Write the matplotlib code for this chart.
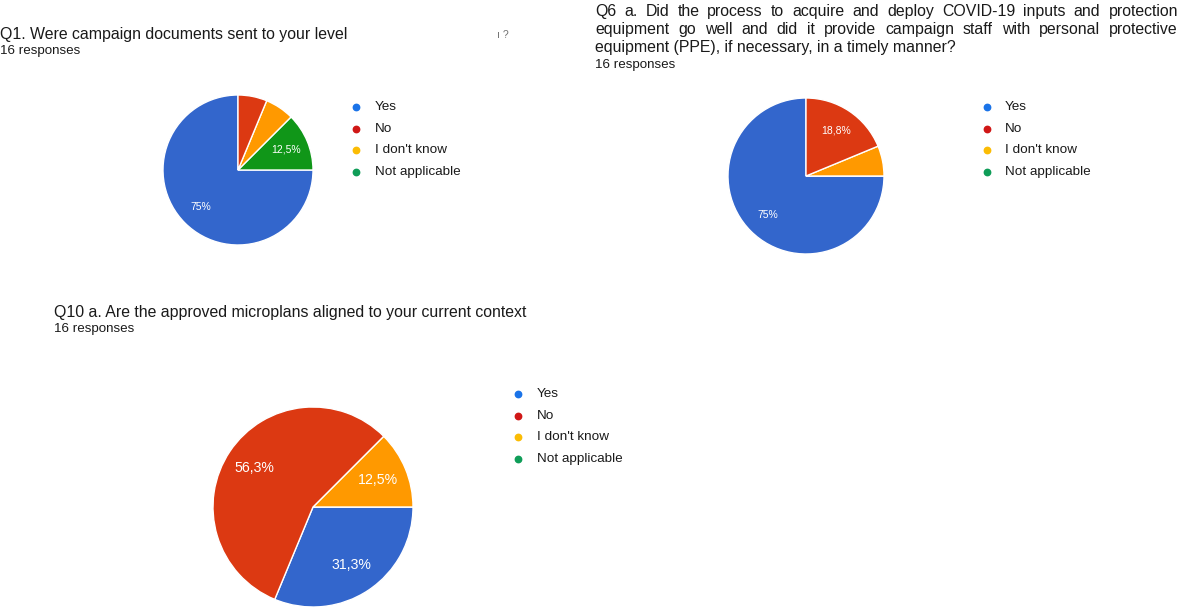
import math
import matplotlib
matplotlib.use("Agg")
import matplotlib.pyplot as plt

plt.rcParams['font.family'] = ['Liberation Sans', 'DejaVu Sans']

# ---------------- data ----------------
categories = ["Yes", "No", "I don't know", "Not applicable"]
q1_counts = [12, 1, 1, 2]
q6_counts = [12, 3, 1, 0]
q10_counts = [5, 9, 2, 0]

q1_title = "Q1. Were campaign documents sent to your level"
q6_title_lines = [
    "Q6 a. Did the process to acquire and deploy COVID-19 inputs and protection",
    "equipment go well and did it provide campaign staff with personal protective",
    "equipment (PPE), if necessary, in a timely manner?",
]
q10_title = "Q10 a. Are the approved microplans aligned to your current context"
responses_text = "16 responses"

slice_colors = ["#3366cc", "#dc3912", "#ff9900", "#109618"]
legend_colors = ["#1a73e8", "#d01716", "#fbbc04", "#0f9d58"]

TITLE_FS = 11.4
RESP_FS = 9.6
LEG_FS = 9.7

W, H = 1181, 608
fig = plt.figure(figsize=(W / 100, H / 100), dpi=100)
fig.patch.set_facecolor("white")

# overlay axes in pixel coords for text / legends
ov = fig.add_axes([0, 0, 1, 1], zorder=5)
ov.set_xlim(0, W)
ov.set_ylim(H, 0)
ov.axis("off")
ov.patch.set_alpha(0)


def fmt_pct(p):
    v = math.floor(p * 10 + 0.5 + 1e-9) / 10
    s = f"{v:.1f}"
    if s.endswith(".0"):
        s = s[:-2]
    return s.replace(".", ",") + "%"


def draw_pie(counts, cx, cy, r, label_fs):
    # counter-clockwise order: Yes, Not applicable, I don't know, No
    order = [0, 3, 2, 1]
    vals = [counts[i] for i in order]
    cols = [slice_colors[i] for i in order]
    total = sum(counts)
    start = -360.0 * counts[0] / total
    ax = fig.add_axes([(cx - r) / W, 1 - (cy + r) / H, 2 * r / W, 2 * r / H], zorder=2)
    wedges, texts, autotexts = ax.pie(
        vals, colors=cols, startangle=start, counterclock=True,
        autopct=lambda p: fmt_pct(p) if p >= 10 else "",
        pctdistance=0.7,
        wedgeprops=dict(edgecolor="white", linewidth=1.0),
        textprops=dict(color="white", fontsize=label_fs),
    )
    for w in wedges:
        w.set_clip_on(False)
    ax.set_xlim(-1, 1)
    ax.set_ylim(-1, 1)
    ax.set_aspect("equal")
    ax.axis("off")
    return ax


def draw_legend(x_dot, x_txt, y0, dy):
    for i, (lab, c) in enumerate(zip(categories, legend_colors)):
        y = y0 + i * dy
        ov.plot([x_dot], [y], marker="o", markersize=4.6, color=c, linestyle="none")
        ov.text(x_txt, y, lab, fontsize=LEG_FS, color="#1a1a1a", va="center", ha="left")


# ---------- Q1 ----------
ov.text(0, 35, q1_title, fontsize=TITLE_FS, color="#1a1a1a", va="center", ha="left")
ov.text(0, 51, responses_text, fontsize=RESP_FS, color="#1a1a1a", va="center", ha="left")
ov.text(497, 35, "ı ?", fontsize=7.5, color="#707070", va="center", ha="left")
draw_pie(q1_counts, 238, 170, 75, 7.5)
draw_legend(356, 375, 107, 21.7)

# ---------- Q6 (justified title) ----------
fig.canvas.draw()
renderer = fig.canvas.get_renderer()
x_left, x_right = 595, 1178
line_baselines = [16, 34, 52]
for li, (line, yb) in enumerate(zip(q6_title_lines, line_baselines)):
    if li < len(q6_title_lines) - 1:
        words = line.split(" ")
        widths = []
        for w_ in words:
            t = ov.text(0, yb, w_, fontsize=TITLE_FS, va="baseline", ha="left")
            widths.append(t.get_window_extent(renderer=renderer).width)
            t.remove()
        gap = (x_right - x_left - sum(widths)) / (len(words) - 1)
        x = x_left
        for w_, wd in zip(words, widths):
            ov.text(x, yb, w_, fontsize=TITLE_FS, color="#1a1a1a", va="baseline", ha="left")
            x += wd + gap
    else:
        ov.text(x_left, yb, line, fontsize=TITLE_FS, color="#1a1a1a", va="baseline", ha="left")
ov.text(595, 65, responses_text, fontsize=RESP_FS, color="#1a1a1a", va="center", ha="left")
draw_pie(q6_counts, 806, 176, 78, 7.5)
draw_legend(987, 1005, 107, 21.7)

# ---------- Q10 ----------
ov.text(54, 313, q10_title, fontsize=TITLE_FS, color="#1a1a1a", va="center", ha="left")
ov.text(54, 329, responses_text, fontsize=RESP_FS, color="#1a1a1a", va="center", ha="left")
draw_pie(q10_counts, 313, 507, 100, 10.2)
draw_legend(518, 537, 394, 21.7)

fig.savefig("out.png", dpi=100, facecolor="white")
